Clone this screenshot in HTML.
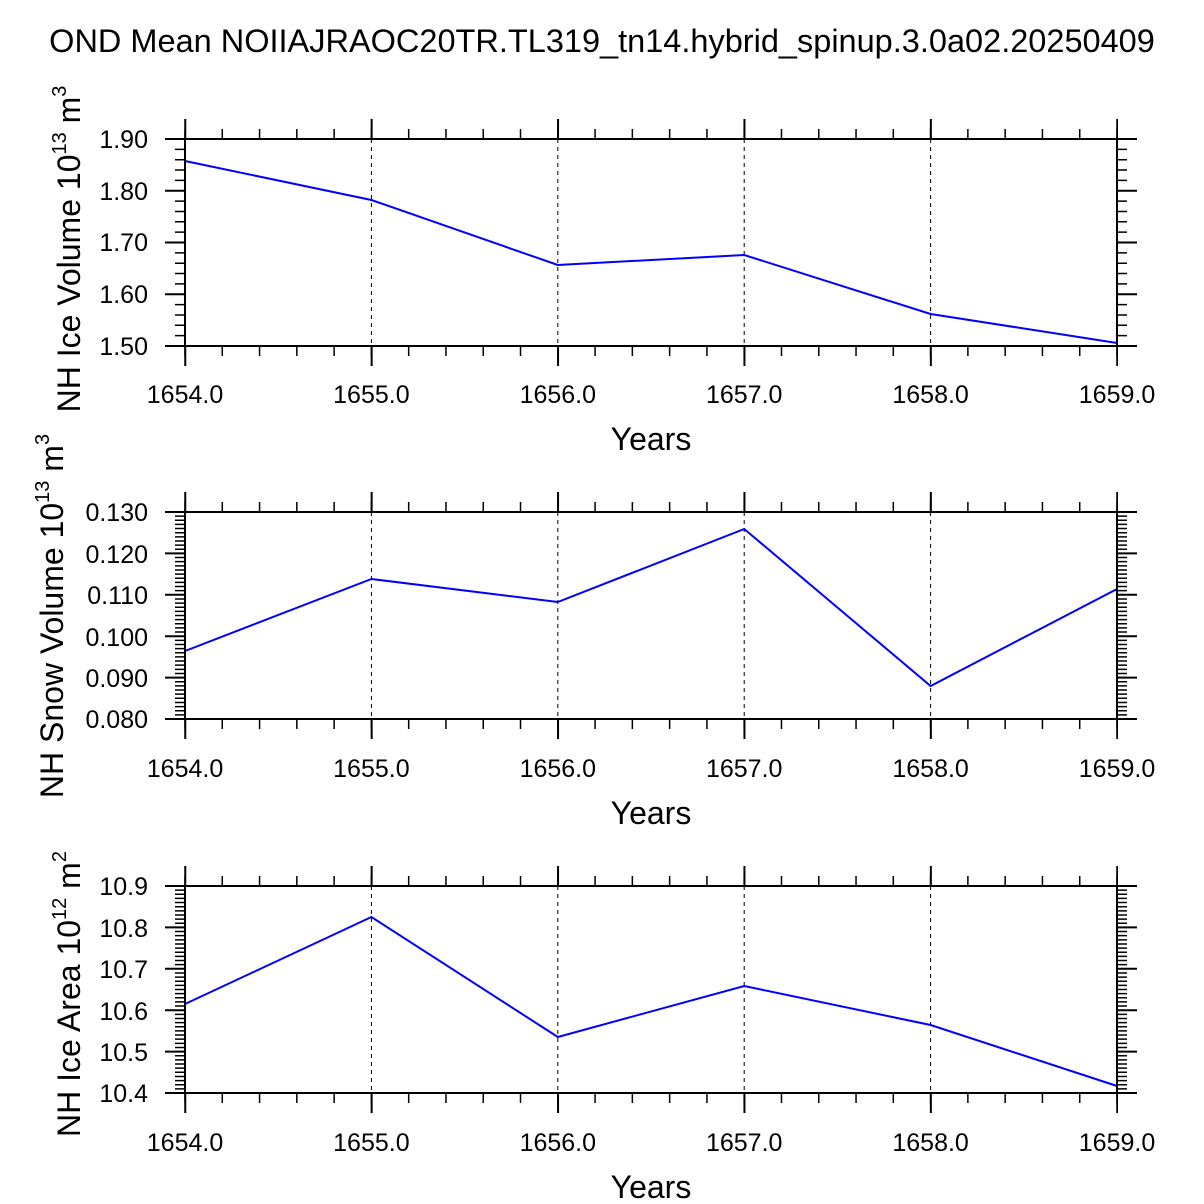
<!DOCTYPE html>
<html><head><style>body{margin:0;background:#fff}svg{display:block}text{font-family:"Liberation Sans",Arial,sans-serif;fill:#000}</style></head>
<body>
<svg width="1204" height="1204" viewBox="0 0 1204 1204" xmlns="http://www.w3.org/2000/svg">
<text x="602" y="52" font-size="32.5" text-anchor="middle">OND Mean NOIIAJRAOC20TR.TL319_tn14.hybrid_spinup.3.0a02.20250409</text>

<!-- Panel 1 -->
<g>
<g stroke="#000" stroke-width="1" stroke-dasharray="4,4"><line x1="371.4" y1="139" x2="371.4" y2="346"/><line x1="557.8" y1="139" x2="557.8" y2="346"/><line x1="744.2" y1="139" x2="744.2" y2="346"/><line x1="930.6" y1="139" x2="930.6" y2="346"/></g>
<polyline fill="none" stroke="#0000ff" stroke-width="2" points="185,161 371.4,200 557.8,265 744.2,255 930.6,314 1117,343"/>
<g fill="none" stroke="#000">
<line x1="184.25" y1="134" x2="1118" y2="134" stroke-width="10" stroke-dasharray="1.5,35.78"/>
<line x1="184.25" y1="129" x2="1118" y2="129" stroke-width="20" stroke-dasharray="2,184.4"/>
<line x1="184.25" y1="351" x2="1118" y2="351" stroke-width="10" stroke-dasharray="1.5,35.78"/>
<line x1="184.25" y1="356" x2="1118" y2="356" stroke-width="20" stroke-dasharray="2,184.4"/>
<line x1="180" y1="138.25" x2="180" y2="347" stroke-width="10" stroke-dasharray="1.5,8.85"/>
<line x1="175" y1="138" x2="175" y2="347" stroke-width="20" stroke-dasharray="2,49.75"/>
<line x1="1122" y1="138.25" x2="1122" y2="347" stroke-width="10" stroke-dasharray="1.5,8.85"/>
<line x1="1127" y1="138" x2="1127" y2="347" stroke-width="20" stroke-dasharray="2,49.75"/>
<rect x="185" y="139" width="932" height="207" stroke-width="2"/>
</g>
<g font-size="25" text-anchor="end"><text x="148" y="148">1.90</text><text x="148" y="200">1.80</text><text x="148" y="251">1.70</text><text x="148" y="303">1.60</text><text x="148" y="355">1.50</text></g>
<g font-size="25" text-anchor="middle"><text x="185" y="403">1654.0</text><text x="371.4" y="403">1655.0</text><text x="557.8" y="403">1656.0</text><text x="744.2" y="403">1657.0</text><text x="930.6" y="403">1658.0</text><text x="1117" y="403">1659.0</text></g>
<text x="651" y="450" font-size="32" text-anchor="middle">Years</text>
<text transform="translate(80,249) rotate(-90)" font-size="32" text-anchor="middle">NH Ice Volume 10<tspan font-size="20" dy="-14">13</tspan><tspan dy="14"> m</tspan><tspan font-size="20" dy="-14">3</tspan></text>
</g>

<!-- Panel 2 -->
<g>
<g stroke="#000" stroke-width="1" stroke-dasharray="4,4"><line x1="371.4" y1="512" x2="371.4" y2="719"/><line x1="557.8" y1="512" x2="557.8" y2="719"/><line x1="744.2" y1="512" x2="744.2" y2="719"/><line x1="930.6" y1="512" x2="930.6" y2="719"/></g>
<polyline fill="none" stroke="#0000ff" stroke-width="2" points="185,651 371.4,579 557.8,602 744.2,529 930.6,686 1117,589"/>
<g fill="none" stroke="#000">
<line x1="184.25" y1="507" x2="1118" y2="507" stroke-width="10" stroke-dasharray="1.5,35.78"/>
<line x1="184.25" y1="502" x2="1118" y2="502" stroke-width="20" stroke-dasharray="2,184.4"/>
<line x1="184.25" y1="724" x2="1118" y2="724" stroke-width="10" stroke-dasharray="1.5,35.78"/>
<line x1="184.25" y1="729" x2="1118" y2="729" stroke-width="20" stroke-dasharray="2,184.4"/>
<line x1="180" y1="511.25" x2="180" y2="720" stroke-width="10" stroke-dasharray="1.5,2.64"/>
<line x1="175" y1="511" x2="175" y2="720" stroke-width="20" stroke-dasharray="2,39.4"/>
<line x1="1122" y1="511.25" x2="1122" y2="720" stroke-width="10" stroke-dasharray="1.5,2.64"/>
<line x1="1127" y1="511" x2="1127" y2="720" stroke-width="20" stroke-dasharray="2,39.4"/>
<rect x="185" y="512" width="932" height="207" stroke-width="2"/>
</g>
<g font-size="25" text-anchor="end"><text x="148" y="521">0.130</text><text x="148" y="563">0.120</text><text x="148" y="604">0.110</text><text x="148" y="646">0.100</text><text x="148" y="687">0.090</text><text x="148" y="728">0.080</text></g>
<g font-size="25" text-anchor="middle"><text x="185" y="777">1654.0</text><text x="371.4" y="777">1655.0</text><text x="557.8" y="777">1656.0</text><text x="744.2" y="777">1657.0</text><text x="930.6" y="777">1658.0</text><text x="1117" y="777">1659.0</text></g>
<text x="651" y="824" font-size="32" text-anchor="middle">Years</text>
<text transform="translate(63,616) rotate(-90)" font-size="32" text-anchor="middle">NH Snow Volume 10<tspan font-size="20" dy="-14">13</tspan><tspan dy="14"> m</tspan><tspan font-size="20" dy="-14">3</tspan></text>
</g>

<!-- Panel 3 -->
<g>
<g stroke="#000" stroke-width="1" stroke-dasharray="4,4"><line x1="371.4" y1="886" x2="371.4" y2="1093"/><line x1="557.8" y1="886" x2="557.8" y2="1093"/><line x1="744.2" y1="886" x2="744.2" y2="1093"/><line x1="930.6" y1="886" x2="930.6" y2="1093"/></g>
<polyline fill="none" stroke="#0000ff" stroke-width="2" points="185,1004 371.4,917 557.8,1037 744.2,986 930.6,1025 1117,1086"/>
<g fill="none" stroke="#000">
<line x1="184.25" y1="881" x2="1118" y2="881" stroke-width="10" stroke-dasharray="1.5,35.78"/>
<line x1="184.25" y1="876" x2="1118" y2="876" stroke-width="20" stroke-dasharray="2,184.4"/>
<line x1="184.25" y1="1098" x2="1118" y2="1098" stroke-width="10" stroke-dasharray="1.5,35.78"/>
<line x1="184.25" y1="1103" x2="1118" y2="1103" stroke-width="20" stroke-dasharray="2,184.4"/>
<line x1="180" y1="885.25" x2="180" y2="1094" stroke-width="10" stroke-dasharray="1.5,2.64"/>
<line x1="175" y1="885" x2="175" y2="1094" stroke-width="20" stroke-dasharray="2,39.4"/>
<line x1="1122" y1="885.25" x2="1122" y2="1094" stroke-width="10" stroke-dasharray="1.5,2.64"/>
<line x1="1127" y1="885" x2="1127" y2="1094" stroke-width="20" stroke-dasharray="2,39.4"/>
<rect x="185" y="886" width="932" height="207" stroke-width="2"/>
</g>
<g font-size="25" text-anchor="end"><text x="148" y="895">10.9</text><text x="148" y="937">10.8</text><text x="148" y="978">10.7</text><text x="148" y="1020">10.6</text><text x="148" y="1061">10.5</text><text x="148" y="1102">10.4</text></g>
<g font-size="25" text-anchor="middle"><text x="185" y="1151">1654.0</text><text x="371.4" y="1151">1655.0</text><text x="557.8" y="1151">1656.0</text><text x="744.2" y="1151">1657.0</text><text x="930.6" y="1151">1658.0</text><text x="1117" y="1151">1659.0</text></g>
<text x="651" y="1198" font-size="32" text-anchor="middle">Years</text>
<text transform="translate(80,994) rotate(-90)" font-size="32" text-anchor="middle">NH Ice Area 10<tspan font-size="20" dy="-14">12</tspan><tspan dy="14"> m</tspan><tspan font-size="20" dy="-14">2</tspan></text>
</g>
</svg>
</body></html>
